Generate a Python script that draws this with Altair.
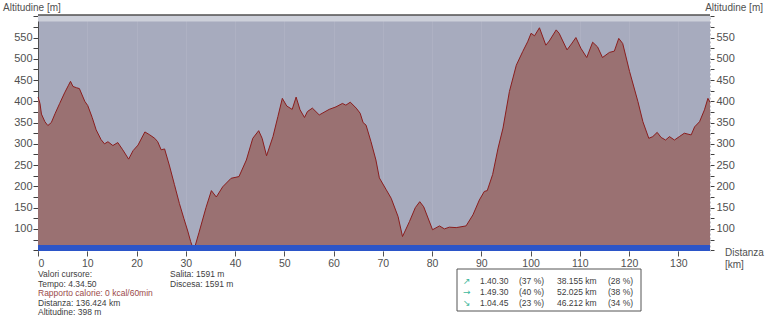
import altair as alt
import pandas as pd

# ---- data ----
distance_km = [0, 0.4, 0.7, 1.4, 2.0, 2.7, 3.5, 4.4, 5.4, 6.2, 6.6, 7.1, 7.8, 8.4, 9.5, 10.1,
               11.0, 11.8, 12.8, 13.5, 14.2, 15.2, 16.2, 17.2, 18.4, 19.3, 20.3, 21.7, 22.7,
               23.7, 24.3, 25.0, 25.7, 26.7, 27.7, 28.7, 29.6, 30.4, 31.0, 31.3, 31.9, 32.7,
               34.1, 35.2, 36.2, 37.5, 39.2, 40.8, 42.3, 43.6, 44.8, 45.5, 46.4, 47.7, 48.7,
               49.6, 50.5, 51.6, 52.4, 53.2, 54.1, 54.7, 55.7, 57.1, 59.1, 60.5, 61.8, 62.5,
               63.4, 64.6, 65.4, 66.0, 66.6, 67.6, 68.6, 69.3, 70.7, 71.7, 73.1, 74.0, 75.4,
               76.6, 77.5, 78.3, 80.1, 81.5, 82.5, 83.5, 84.9, 86.9, 88.3, 89.6, 90.6, 91.2,
               92.3, 93.4, 94.4, 95.7, 97.1, 98.4, 99.4, 100.1, 100.8, 101.8, 103.1, 103.8,
               105.2, 105.8, 107.4, 108.3, 109.2, 110.2, 111.4, 112.6, 113.6, 114.6, 116.0,
               117.0, 117.9, 118.7, 120.1, 121.8, 122.8, 124.0, 124.8, 125.7, 126.5, 127.4,
               128.2, 129.2, 130.2, 131.2, 132.6, 133.3, 134.3, 135.3, 136.0, 136.424]
altitude_m = [410, 395, 370, 352, 343, 350, 372, 395, 420, 438, 447, 435, 432, 430, 400, 390,
              362, 333, 310, 300, 305, 296, 303, 286, 264, 284, 297, 328, 321,
              313, 305, 286, 288, 248, 204, 160, 125, 95, 70, 60, 60, 92,
              150, 190, 175, 199, 219, 223, 262, 313, 331, 313, 272, 317, 364,
              407, 389, 381, 410, 380, 362, 376, 384, 368, 381, 387, 395, 391,
              398, 384, 372, 350, 344, 305, 262, 220, 192, 172, 129, 82, 117,
              150, 164, 152, 98, 107, 100, 104, 103, 107, 133, 168, 188, 190,
              228, 290, 337, 423, 485, 517, 540, 560, 554, 573, 532, 542,
              568, 560, 521, 535, 550, 525, 503, 539, 528, 503, 515,
              518, 548, 536, 470, 399, 352, 313, 317, 327, 315, 309,
              317, 309, 317, 325, 321, 340, 352, 380, 407, 398]

x_ticks = list(range(0, 131, 10))
y_ticks = list(range(50, 601, 25))

info_lines = ["Valori cursore:", "Tempo: 4.34.50", "Rapporto calorie: 0 kcal/60min",
              "Distanza: 136.424 km", "Altitudine: 398 m"]
info_colors = ["#404040", "#404040", "#9A4A4A", "#404040", "#404040"]
climb_lines = ["Salita: 1591 m", "Discesa: 1591 m"]

table_arrows = ["\u2197", "\u2192", "\u2198"]
table_times = ["1.40.30", "1.49.30", "1.04.45"]
table_time_pct = ["(37 %)", "(40 %)", "(23 %)"]
table_km = ["38.155 km", "52.025 km", "46.212 km"]
table_km_pct = ["(28 %)", "(38 %)", "(34 %)"]

Y_MIN, Y_MAX = 48, 603
X_MAX = 136.424
W, H = 672, 236
FONT = "Liberation Sans"

df = pd.DataFrame({"km": distance_km, "alt": altitude_m})
one = pd.DataFrame({"a": [0]})

xs = alt.Scale(domain=[0, X_MAX], nice=False, zero=False)
ys = alt.Scale(domain=[Y_MIN, Y_MAX], nice=False, zero=False)

x_axis = alt.Axis(values=x_ticks, title=None, grid=True, gridColor="#AEB1C3", gridWidth=1,
                  domain=False, tickColor="#505050", tickSize=5, labelPadding=2,
                  labelFont=FONT, labelFontSize=10.5, labelColor="#505050")
label_expr = "(datum.value % 50 == 0 && datum.value >= 100 && datum.value <= 550) ? datum.label : ''"
y_left = alt.Axis(values=y_ticks, title=None, orient="left", grid=False, labelExpr=label_expr,
                  domainColor="#505050", tickColor="#404040", tickSize=5, labelPadding=1,
                  labelFont=FONT, labelFontSize=11, labelColor="#505050")
y_right = alt.Axis(values=y_ticks, title=None, orient="right", grid=False, labelExpr=label_expr,
                   domainColor="#C4C4CC", domainDash=[2, 2], tickColor="#404040", tickSize=4,
                   labelPadding=2, labelFont=FONT, labelFontSize=11, labelColor="#505050")

band = alt.Chart(one).mark_rect(color="#CDD0DA").encode(
    y=alt.datum(588, scale=ys, axis=None), y2=alt.datum(Y_MAX))

area = alt.Chart(df).mark_area(color="#9A7172", opacity=1).encode(
    x=alt.X("km:Q", scale=xs, axis=x_axis),
    y=alt.Y("alt:Q", scale=ys, axis=y_left),
    y2=alt.datum(Y_MIN),
)
line = alt.Chart(df).mark_line(color="#8A1E1E", strokeWidth=1).encode(
    x=alt.X("km:Q", scale=xs),
    y=alt.Y("alt:Q", scale=ys, axis=y_right),
)
bluebar = alt.Chart(one).mark_rect(color="#2B55C8").encode(
    y=alt.datum(Y_MIN, scale=ys, axis=None), y2=alt.datum(62))
topline = alt.Chart(one).mark_rule(color="#505050", strokeWidth=1.5).encode(
    x=alt.value(0), x2=alt.value(W), y=alt.value(0))


def txt(s, x, y, size=8.5, color="#404040", align="left", font=FONT):
    return alt.Chart(one).mark_text(text=s, align=align, baseline="middle", font=font,
                                    fontSize=size, color=color).encode(
        x=alt.value(x), y=alt.value(y))


texts = [
    txt("Altitudine [m]", -35, -7, size=10, color="#505050"),
    txt("Altitudine [m]", 725, -7, size=10, color="#505050", align="right"),
    txt("Distanza", 687, 238, size=10, color="#505050"),
    txt("[km]", 687, 250, size=10, color="#505050"),
]
for i, (s, c) in enumerate(zip(info_lines, info_colors)):
    texts.append(txt(s, 0, 259 + i * 9.6, color=c))
for i, s in enumerate(climb_lines):
    texts.append(txt(s, 132, 259 + i * 9.6))

box = alt.Chart(one).mark_rect(fill="white", stroke="#555555", strokeWidth=1).encode(
    x=alt.value(419), x2=alt.value(603), y=alt.value(254), y2=alt.value(296))
texts.append(box)
for i in range(3):
    yy = 265.7 + i * 11
    texts.append(txt(table_arrows[i], 425, yy, size=9, color="#3CB89C", font="DejaVu Sans"))
    texts.append(txt(table_times[i], 442, yy))
    texts.append(txt(table_time_pct[i], 481, yy))
    texts.append(txt(table_km[i], 519, yy))
    texts.append(txt(table_km_pct[i], 570, yy))

chart = alt.layer(band, area, line, bluebar, topline, *texts).resolve_axis(
    y="independent").properties(
    width=W, height=H,
    autosize=alt.AutoSizeParams(type="none"),
    padding={"left": 38, "top": 15, "right": 58, "bottom": 68},
    background="white",
).configure_view(fill="#A7ABBE", stroke=None)

chart.save("out.html", embed_options={"renderer": "svg", "actions": False})
